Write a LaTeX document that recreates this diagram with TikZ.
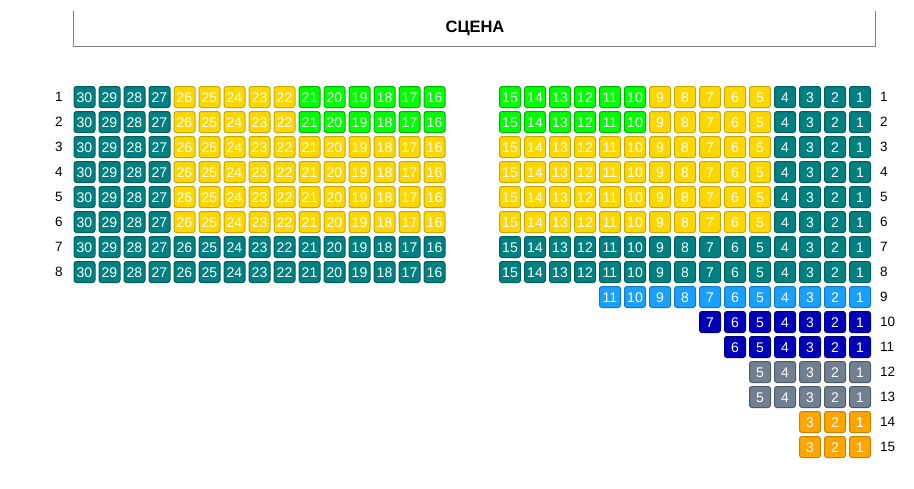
\documentclass[tikz,border=0pt]{standalone}
\usepackage{fontspec}
\setmainfont{Liberation Sans}
\definecolor{tealf}{HTML}{008080}\definecolor{tealb}{HTML}{005E5E}
\definecolor{yelf}{HTML}{FFD700}\definecolor{yelb}{HTML}{C9A800}
\definecolor{grnf}{HTML}{00FF00}\definecolor{grnb}{HTML}{00B400}
\definecolor{lbf}{HTML}{1AA0FA}\definecolor{lbb}{HTML}{1478C0}
\definecolor{dbf}{HTML}{0000B8}\definecolor{dbb}{HTML}{00007A}
\definecolor{grf}{HTML}{708090}\definecolor{grb}{HTML}{4E5A66}
\definecolor{orf}{HTML}{FFA500}\definecolor{orb}{HTML}{C88200}
\definecolor{stagec}{HTML}{808080}
\tikzset{
  seat/.style={minimum width=21pt,minimum height=21pt,inner sep=0pt,rounded corners=2.5pt,line width=1pt,text=white,font=\fontsize{14}{14}\selectfont,text height=10pt,text depth=0pt},
  tl/.style={seat,fill=tealf,draw=tealb},
  yl/.style={seat,fill=yelf,draw=yelb},
  gn/.style={seat,fill=grnf,draw=grnb},
  lb/.style={seat,fill=lbf,draw=lbb},
  db/.style={seat,fill=dbf,draw=dbb},
  gr/.style={seat,fill=grf,draw=grb},
  og/.style={seat,fill=orf,draw=orb},
  rowlab/.style={font=\fontsize{13.5}{13.5}\selectfont,inner sep=0pt,text height=9.5pt,text depth=0pt},
}
\newcommand\lrun[4]{\foreach \s in {#2,...,#3} \node[#4] (L#1-\s) at ({84.5+(30-\s)*25},{97+(#1-1)*25}) {\s};}
\newcommand\rrun[4]{\foreach \s in {#2,...,#3} \node[#4] (R#1-\s) at ({860-(\s-1)*25},{97+(#1-1)*25}) {\s};}
\begin{document}
\begin{tikzpicture}[x=1pt,y=-1pt]
\useasboundingbox (0,0) rectangle (914,488);
\draw[stagec,line width=1pt] (73.5,11) -- (73.5,46) -- (875.5,46) -- (875.5,11);
\node[font=\bfseries\fontsize{16.5}{16.5}\selectfont] (stage) at (475,28) {СЦЕНА};
% left block
\foreach \r in {1,2} {\lrun{\r}{30}{27}{tl}\lrun{\r}{26}{22}{yl}\lrun{\r}{21}{16}{gn}}
\foreach \r in {3,...,6} {\lrun{\r}{30}{27}{tl}\lrun{\r}{26}{16}{yl}}
\foreach \r in {7,8} {\lrun{\r}{30}{16}{tl}}
% right block
\foreach \r in {1,2} {\rrun{\r}{15}{10}{gn}\rrun{\r}{9}{5}{yl}\rrun{\r}{4}{1}{tl}}
\foreach \r in {3,...,6} {\rrun{\r}{15}{5}{yl}\rrun{\r}{4}{1}{tl}}
\foreach \r in {7,8} {\rrun{\r}{15}{1}{tl}}
\rrun{9}{11}{1}{lb}
\rrun{10}{7}{1}{db}
\rrun{11}{6}{1}{db}
\rrun{12}{5}{1}{gr}
\rrun{13}{5}{1}{gr}
\rrun{14}{3}{1}{og}
\rrun{15}{3}{1}{og}
% row labels
\foreach \r in {1,...,8} \node[rowlab] (LL\r) at (59,{97+(\r-1)*25}) {\r};
\foreach \r in {1,...,15} \node[rowlab,anchor=west] (RL\r) at (880,{97+(\r-1)*25}) {\r};
\end{tikzpicture}
\end{document}
